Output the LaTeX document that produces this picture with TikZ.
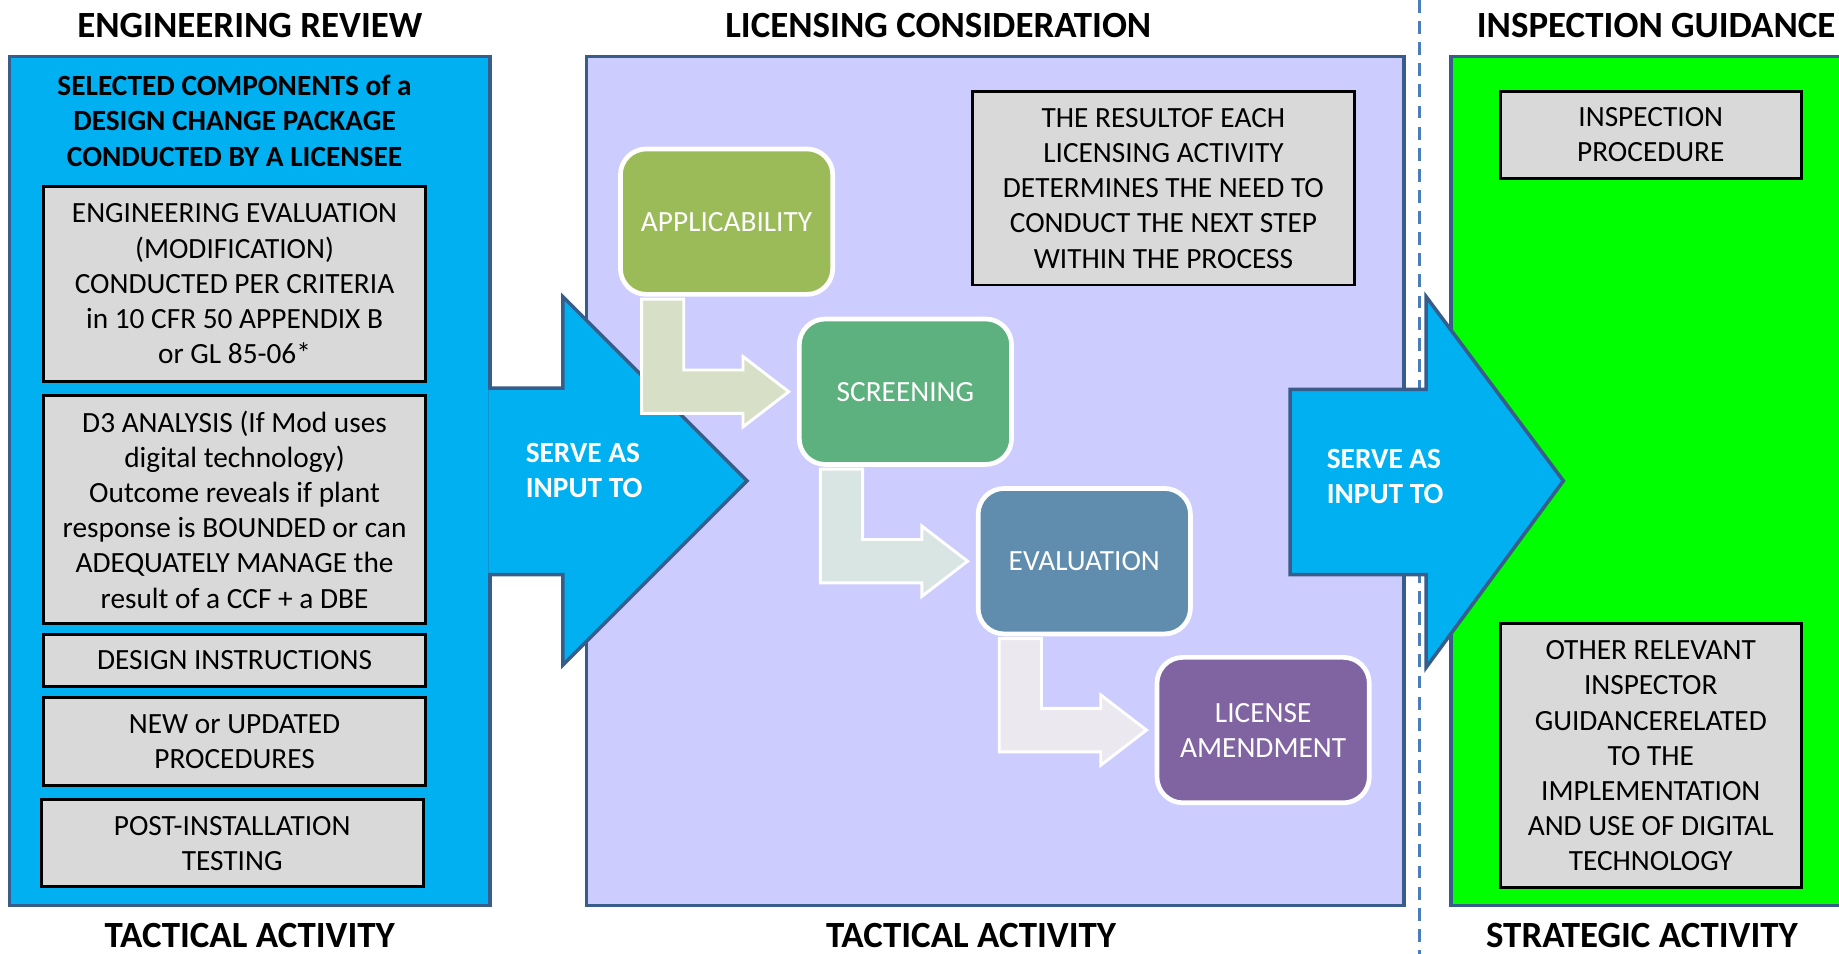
\documentclass[tikz,border=0pt]{standalone}
\usepackage{fontspec}
\setmainfont{Carlito}
\usepackage{tikz}
\usetikzlibrary{calc}
\usepackage{xcolor}
\definecolor{panelblue}{HTML}{00B0F0}
\definecolor{paneledge}{HTML}{385D8A}
\definecolor{lavender}{HTML}{CCCCFF}
\definecolor{brightgreen}{HTML}{00FF00}
\definecolor{boxgray}{HTML}{D9D9D9}
\definecolor{applgreen}{HTML}{9BBB59}
\definecolor{scrgreen}{HTML}{5DB17E}
\definecolor{evalblue}{HTML}{608DAD}
\definecolor{licpurple}{HTML}{8064A2}
\definecolor{bentolive}{HTML}{D7E0C6}
\definecolor{bentteal}{HTML}{D8E5E3}
\definecolor{bentlilac}{HTML}{EBE9EF}
\definecolor{dashblue}{HTML}{4A7EBB}
\newcommand{\bodyfnt}{\fontsize{25}{30}\selectfont}
\newcommand{\titlefnt}{\fontsize{31.5}{37}\selectfont\bfseries}
\tikzset{
  panel/.style={rectangle, draw=paneledge, line width=3pt, inner sep=0pt},
  graybox/.style={rectangle, draw=black, line width=2.5pt, fill=boxgray,
                  align=center, inner sep=0pt, font=\bodyfnt},
  flowbox/.style={rectangle, rounded corners=22pt, draw=white, line width=4pt,
                  text=white, align=center, font=\bodyfnt,
                  minimum width=181pt, minimum height=124pt},
  heading/.style={font=\titlefnt, inner sep=0pt},
  bigarrow/.style={fill=panelblue, draw=paneledge, line width=3pt, line join=miter},
  bentarrow/.style={draw=white, line width=2.5pt, line join=miter},
  servetext/.style={text=white, font=\bodyfnt\bfseries, align=left},
}

\begin{document}
\begin{tikzpicture}[x=1pt, y=-1pt]   %% one unit = one pixel of the layout
  \useasboundingbox (0,0) rectangle (1568,813);
  \clip (0,0) rectangle (1568,813);

  %% ── Divider between tactical and strategic ─────────────────────────────
  \draw[dashblue, line width=2.5pt, dash pattern=on 11pt off 7pt] (1210,0) -- (1210,813);

  %% ── Column panels ───────────────────────────────────────────────────────
  \node[panel, fill=panelblue,  minimum width=410pt, minimum height=724pt] (lbox) at (213,410) {};
  \node[panel, fill=lavender,   minimum width=697pt, minimum height=724pt] (mbox) at (848.5,410) {};
  \node[panel, fill=brightgreen, minimum width=400pt, minimum height=724pt] (rbox) at (1437,410) {};

  %% ── Column titles ───────────────────────────────────────────────────────
  \node[heading] (ttlEng)  at (213,22)  {ENGINEERING REVIEW};
  \node[heading] (ttlLic)  at (800,22)  {LICENSING CONSIDERATION};
  \node[heading, anchor=west] (ttlInsp) at (1259,22) {INSPECTION GUIDANCE};
  \node[heading] (botEng)  at (213,798) {TACTICAL ACTIVITY};
  \node[heading] (botLic)  at (828,798) {TACTICAL ACTIVITY};
  \node[heading] (botInsp) at (1400,798) {STRATEGIC ACTIVITY};

  %% ── Engineering review contents ─────────────────────────────────────────
  \node[font=\bodyfnt\bfseries, align=center] (pkg) at (200,103)
    {SELECTED COMPONENTS of a\\DESIGN CHANGE PACKAGE\\CONDUCTED BY A LICENSEE};
  \node[graybox, minimum width=326pt, minimum height=166pt] (engEval) at (200,242)
    {ENGINEERING EVALUATION\\(MODIFICATION)\\CONDUCTED PER CRITERIA\\in 10 CFR 50 APPENDIX B\\or GL 85-06*};
  \node[graybox, minimum width=326pt, minimum height=195pt] (dThree) at (200,434.5)
    {D3 ANALYSIS (If Mod uses\\digital technology)\\Outcome reveals if plant\\response is BOUNDED or can\\ADEQUATELY MANAGE the\\result of a CCF + a DBE};
  \node[graybox, minimum width=326pt, minimum height=44pt] (design) at (200,563)
    {DESIGN INSTRUCTIONS};
  \node[graybox, minimum width=326pt, minimum height=75pt] (procs) at (200,632.5)
    {NEW or UPDATED\\PROCEDURES};
  \node[graybox, minimum width=326pt, minimum height=74pt] (postTest) at (198,719)
    {POST-INSTALLATION\\TESTING};

  %% ── Inspection guidance contents ────────────────────────────────────────
  \node[graybox, minimum width=257pt, minimum height=74pt] (inspProc) at (1407.5,115)
    {INSPECTION\\PROCEDURE};
  \node[graybox, minimum width=257pt, minimum height=225pt] (otherGuide) at (1407.5,644.5)
    {OTHER RELEVANT\\INSPECTOR\\GUIDANCERELATED\\TO THE\\IMPLEMENTATION\\AND USE OF DIGITAL\\TECHNOLOGY};

  %% ── Big "serve as input" arrows ─────────────────────────────────────────
  \filldraw[bigarrow] (416.5,331) -- (480,331) -- (480,253) -- (637,410)
    -- (480,567) -- (480,490) -- (416.5,490);
  \filldraw[bigarrow] (1100,332) -- (1216,332) -- (1216,253) -- (1333,410)
    -- (1216,569) -- (1216,490) -- (1100,490) -- cycle;
  \node[servetext] (serveA) at (498,401) {SERVE AS\\INPUT TO};
  \node[servetext] (serveB) at (1181,406) {SERVE AS\\INPUT TO};

  %% ── Licensing steps ─────────────────────────────────────────────────────
  \node[graybox, minimum width=326pt, minimum height=165pt] (note) at (992,160.5)
    {THE RESULTOF EACH\\LICENSING ACTIVITY\\DETERMINES THE NEED TO\\CONDUCT THE NEXT STEP\\WITHIN THE PROCESS};
  \node[flowbox, fill=applgreen] (appl) at (619.5,189)   {APPLICABILITY};
  \node[flowbox, fill=scrgreen]  (scr)  at (772,334)     {SCREENING};
  \node[flowbox, fill=evalblue]  (eval) at (924.5,478.5) {EVALUATION};
  \node[flowbox, fill=licpurple] (lic)  at (1077,622.5)  {LICENSE\\AMENDMENT};

  %% ── Bent arrows between the steps ───────────────────────────────────────
  \foreach \src/\dst/\shd in {appl/scr/bentolive, scr/eval/bentteal, eval/lic/bentlilac}
    \filldraw[bentarrow, fill=\shd] let \p1=(\src.south west), \p2=(\dst.west) in
      (\x1+20pt,\y1-2pt) -- (\x1+56pt,\y1-2pt) -- (\x1+56pt,\y2+18.5pt)
      -- (\x2-46pt,\y2+18.5pt) -- (\x2-46pt,\y2+30pt) -- (\x2-7pt,\y2)
      -- (\x2-46pt,\y2-30pt) -- (\x2-46pt,\y2-18.5pt) -- (\x1+20pt,\y2-18.5pt) -- cycle;

\end{tikzpicture}
\end{document}
